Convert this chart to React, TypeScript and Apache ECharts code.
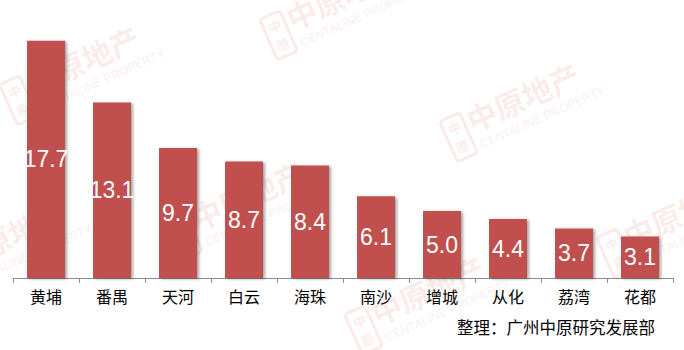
import React, { useEffect, useRef } from "react";
import * as echarts from "echarts";

const categories = ["黄埔", "番禺", "天河", "白云", "海珠", "南沙", "增城", "从化", "荔湾", "花都"];
const values = [17.7, 13.1, 9.7, 8.7, 8.4, 6.1, 5.0, 4.4, 3.7, 3.1];
const footerText = "整理：广州中原研究发展部";
const watermarkMain = "中原地产";
const watermarkSub = "CENTALINE PROPERTY";
const watermarkCenters: [number, number][] = [
  [85, 75],
  [345, 10],
  [525, 112],
  [250, 210],
  [12, 250],
  [682, 228],
  [430, 305],
];

function watermark(cx: number, cy: number) {
  const col = "rgba(215,60,60,0.11)";
  return {
    type: "group",
    x: cx,
    y: cy,
    rotation: 0.42,
    silent: true,
    z: 100,
    children: [
      {
        type: "rect",
        shape: { x: -82, y: -26, width: 22, height: 44, r: 3 },
        style: { fill: "none", stroke: col, lineWidth: 3 },
      },
      {
        type: "text",
        x: -71,
        y: -14,
        style: { text: "中", fill: col, font: "bold 13px 'Noto Sans CJK SC'", align: "center", verticalAlign: "middle" },
      },
      {
        type: "text",
        x: -71,
        y: 6,
        style: { text: "原", fill: col, font: "bold 13px 'Noto Sans CJK SC'", align: "center", verticalAlign: "middle" },
      },
      {
        type: "text",
        x: -56,
        y: -30,
        style: { text: watermarkMain, fill: col, font: "bold 30px 'Noto Sans CJK SC'", align: "left", verticalAlign: "top" },
      },
      {
        type: "text",
        x: -54,
        y: 6,
        style: { text: watermarkSub, fill: col, font: "12px 'Liberation Sans'", align: "left", verticalAlign: "top" },
      },
    ],
  };
}

export default function App() {
  const ref = useRef<HTMLDivElement>(null);
  useEffect(() => {
    if (!ref.current) return;
    const chart = echarts.init(ref.current, undefined, { renderer: "svg" });
    chart.setOption({
      animation: false,
      backgroundColor: "#ffffff",
      grid: { left: 13, right: 11, top: 10, bottom: 72 },
      xAxis: {
        type: "category",
        data: categories,
        axisLine: { lineStyle: { color: "#8c8c8c", width: 1 } },
        axisTick: { show: true, length: 5, lineStyle: { color: "#8c8c8c" } },
        axisLabel: {
          color: "#000000",
          fontSize: 16,
          margin: 10,
          fontFamily: "'Noto Sans CJK SC'",
        },
      },
      yAxis: {
        type: "value",
        min: 0,
        max: 20,
        show: false,
        splitLine: { show: false },
      },
      series: [
        {
          type: "bar",
          data: values,
          barWidth: 38,
          itemStyle: {
            color: "#C0504D",
            shadowColor: "rgba(0,0,0,0.35)",
            shadowBlur: 3,
            shadowOffsetX: 2,
            shadowOffsetY: 1,
          },
          label: {
            show: true,
            position: "inside",
            color: "#ffffff",
            fontSize: 23,
            fontFamily: "'Liberation Sans', Arial, sans-serif",
            formatter: (p: any) => Number(p.value).toFixed(1),
          },
        },
      ],
      graphic: [
        ...watermarkCenters.map(([x, y]) => watermark(x, y)),
        {
          type: "text",
          right: 29,
          top: 319,
          style: {
            text: footerText,
            fill: "#000000",
            font: "16.5px 'Noto Sans CJK SC'",
          },
        },
      ],
    });
    return () => chart.dispose();
  }, []);
  return (
    <div
      ref={ref}
      style={{ position: "absolute", left: 0, top: 0, width: 684, height: 350 }}
    />
  );
}
